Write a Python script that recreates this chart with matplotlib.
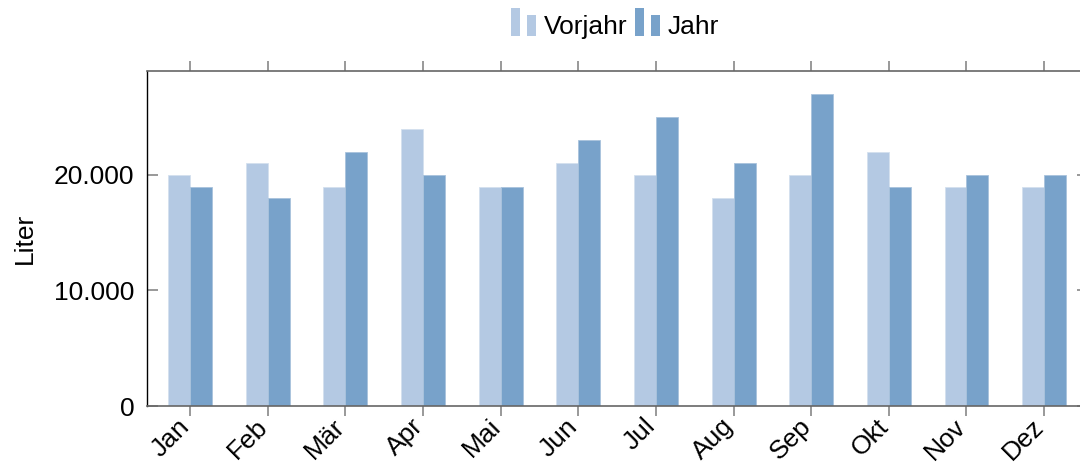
import matplotlib
matplotlib.use("Agg")
import matplotlib.pyplot as plt
import matplotlib.transforms as mtransforms
import numpy as np
from matplotlib.patches import Rectangle
from matplotlib.legend_handler import HandlerBase
from matplotlib.ticker import FuncFormatter

plt.rcParams['font.family'] = ['Liberation Sans', 'DejaVu Sans']

months = ["Jan", "Feb", "Mär", "Apr", "Mai", "Jun", "Jul", "Aug", "Sep", "Okt", "Nov", "Dez"]
vorjahr = [20000, 21000, 19000, 24000, 19000, 21000, 20000, 18000, 20000, 22000, 19000, 19000]
jahr = [19000, 18000, 22000, 20000, 19000, 23000, 25000, 21000, 27000, 19000, 20000, 20000]
series_names = ["Vorjahr", "Jahr"]
colors = ["#b4c9e3", "#78a2ca"]
yticks = [0, 10000, 20000]

FS = 19

fig = plt.figure(figsize=(10.8, 4.65), dpi=100)
ax = fig.add_axes([147/1080, 59/465, (1088-147)/1080, (406-71)/465])

x = np.arange(len(months))
w = 0.283
b1 = ax.bar(x - w/2, vorjahr, width=w, color=colors[0], edgecolor="#d4e0ee", linewidth=0.6, label=series_names[0])
b2 = ax.bar(x + w/2, jahr, width=w, color=colors[1], edgecolor="#a8c2dc", linewidth=0.6, label=series_names[1])

ax.set_xlim(-0.555, 11.565)
ax.set_ylim(0, 29000)
ax.set_xticks(x)
ax.set_xticklabels(months, rotation=45, ha='right', va='center', rotation_mode='anchor', fontsize=FS)
ax.set_yticks(yticks)
ax.yaxis.set_major_formatter(FuncFormatter(lambda v, p: f"{int(v):,}".replace(",", ".")))
ax.tick_params(axis='y', direction='in', length=8, color='#888888', width=1.2, labelsize=FS, pad=9, right=True)
ax.tick_params(axis='x', direction='out', length=7, color='#888888', width=1.2, pad=5, top=True)
ax.set_ylabel("Liter", fontsize=FS, labelpad=12)

offset = mtransforms.ScaledTranslation(-4/100, 0, fig.dpi_scale_trans)
for lab in ax.get_xticklabels():
    lab.set_transform(lab.get_transform() + offset)

ax.spines['left'].set_color('black')
ax.spines['left'].set_linewidth(1.0)
for s in ['top', 'bottom']:
    ax.spines[s].set_color('#666666')
    ax.spines[s].set_linewidth(1.2)
ax.spines['right'].set_color('#666666')


class TwoBarHandler(HandlerBase):
    def __init__(self, color):
        super().__init__()
        self.color = color

    def create_artists(self, legend, orig_handle, xdescent, ydescent, width, height, fontsize, trans):
        bw = width * 0.36
        r1 = Rectangle((-xdescent, -ydescent - height*0.1), bw, height*1.5, facecolor=self.color, edgecolor='none', transform=trans)
        r2 = Rectangle((-xdescent + width - bw, -ydescent - height*0.1), bw, height*1.15, facecolor=self.color, edgecolor='none', transform=trans)
        return [r1, r2]


fig.legend([b1, b2], series_names, loc='center', bbox_to_anchor=(615/1080, 1 - 27/465),
           ncol=2, frameon=False, fontsize=FS, handlelength=0.95, handletextpad=0.3,
           columnspacing=0.3, borderpad=0.0,
           handler_map={b1: TwoBarHandler(colors[0]), b2: TwoBarHandler(colors[1])})

fig.savefig("out.png", dpi=100)
